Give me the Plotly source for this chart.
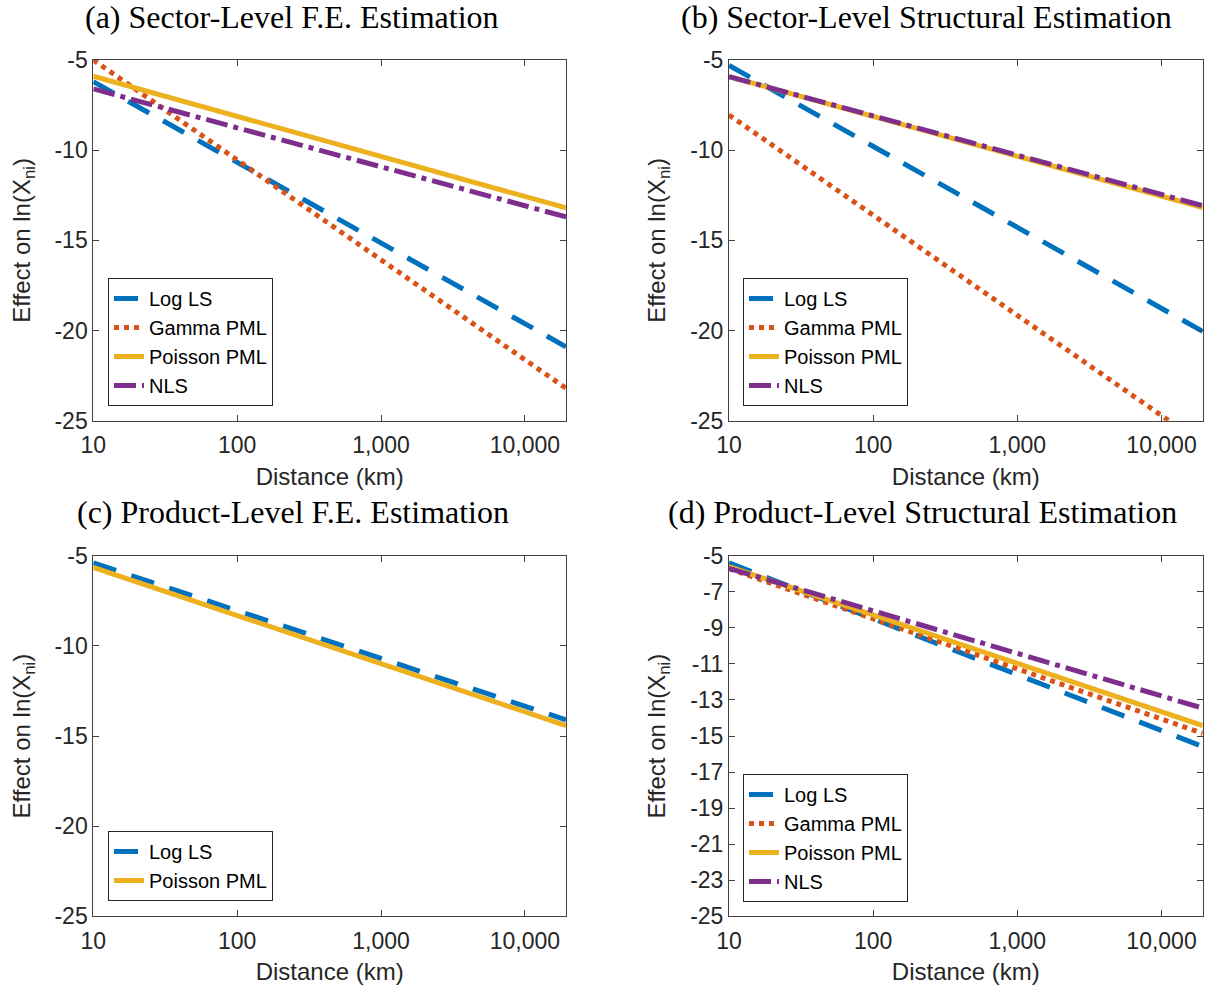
import plotly.graph_objects as go

# ---- data ----
distance_km = [10, 19300]
tick_vals_x = [10, 100, 1000, 10000]
tick_text_x = ["10", "100", "1,000", "10,000"]
ticks_y_coarse = [-5, -10, -15, -20, -25]
ticks_y_fine = [-5, -7, -9, -11, -13, -15, -17, -19, -21, -23, -25]

a_log_ls = [-6.2, -20.9]
a_gamma = [-5.0, -23.2]
a_poisson = [-5.9, -13.2]
a_nls = [-6.6, -13.7]

b_log_ls = [-5.3, -20.05]
b_gamma = [-8.05, -26.3]
b_poisson = [-5.92, -13.18]
b_nls = [-5.92, -13.08]

c_log_ls = [-5.4, -14.1]
c_poisson = [-5.65, -14.42]

d_log_ls = [-5.4, -15.58]
d_gamma = [-5.72, -14.85]
d_poisson = [-5.6, -14.42]
d_nls = [-5.7, -13.45]

titles = ["(a) Sector-Level F.E. Estimation",
          "(b) Sector-Level Structural Estimation",
          "(c) Product-Level F.E. Estimation",
          "(d) Product-Level Structural Estimation"]

names = ["Log LS", "Gamma PML", "Poisson PML", "NLS"]
colors = {"Log LS": "#0072BD", "Gamma PML": "#D95319",
          "Poisson PML": "#EDB120", "NLS": "#7E2F8E"}
dashes = {"Log LS": "24px,16px", "Gamma PML": "5px,5px",
          "Poisson PML": "solid", "NLS": "22px,6px,5px,6px"}

panels = [
    {"Log LS": a_log_ls, "Gamma PML": a_gamma, "Poisson PML": a_poisson, "NLS": a_nls},
    {"Log LS": b_log_ls, "Gamma PML": b_gamma, "Poisson PML": b_poisson, "NLS": b_nls},
    {"Log LS": c_log_ls, "Poisson PML": c_poisson},
    {"Log LS": d_log_ls, "Gamma PML": d_gamma, "Poisson PML": d_poisson, "NLS": d_nls},
]

W, H = 1211, 994
xdom = [[93.3 / W, 566 / W], [729 / W, 1202.7 / W]]
ydom_top = [1 - 420.7 / H, 1 - 60 / H]
ydom_bot = [1 - 916.4 / H, 1 - 555.7 / H]
doms = [(xdom[0], ydom_top), (xdom[1], ydom_top), (xdom[0], ydom_bot), (xdom[1], ydom_bot)]
legend_pos = [(108 / W, 1 - 406 / H), (743 / W, 1 - 406 / H),
              (108 / W, 1 - 901 / H), (743 / W, 1 - 902 / H)]
title_pos = [(292 / W, 1 - 17 / H), (926 / W, 1 - 17 / H),
             (293 / W, 1 - 512 / H), (922 / W, 1 - 512 / H)]

txt = "#262626"
axcol = "#404040"
fig = go.Figure()
layout = dict(width=W, height=H, margin=dict(l=0, r=0, t=0, b=0, autoexpand=False),
              paper_bgcolor="white", plot_bgcolor="white",
              font=dict(family="Liberation Sans, Arial, sans-serif", size=22, color=txt),
              annotations=[])

for i, panel in enumerate(panels):
    k = "" if i == 0 else str(i + 1)
    leg = "legend" + k
    for nm in names:
        if nm not in panel:
            continue
        fig.add_trace(go.Scatter(
            x=distance_km, y=panel[nm], mode="lines", name=nm,
            line=dict(color=colors[nm], width=5, dash=dashes[nm]),
            xaxis="x" + k, yaxis="y" + k, legend=leg, showlegend=True))
    xd, yd = doms[i]
    yt = ticks_y_fine if i == 3 else ticks_y_coarse
    layout["xaxis" + k] = dict(
        domain=xd, anchor="y" + k, type="log", automargin=False,
        range=[1, 4.2856], tickvals=tick_vals_x, ticktext=tick_text_x,
        ticks="inside", ticklen=6, tickcolor=axcol, showline=True, linecolor=axcol,
        linewidth=1, mirror="ticks", showgrid=False, zeroline=False,
        tickfont=dict(size=23, color=txt), ticklabelstandoff=4,
        title=dict(text="Distance (km)", font=dict(size=24, color=txt), standoff=10))
    layout["yaxis" + k] = dict(
        domain=yd, anchor="x" + k, range=[-25, -5], automargin=False,
        tickvals=yt, ticktext=["-%d" % abs(v) for v in yt],
        ticks="inside", ticklen=6, tickcolor=axcol, showline=True, linecolor=axcol,
        linewidth=1, mirror="ticks", showgrid=False, zeroline=False,
        tickfont=dict(size=23, color=txt),
        title=dict(text="Effect on ln(X<sub>ni</sub>)", font=dict(size=24, color=txt), standoff=17))
    lx, ly = legend_pos[i]
    layout[leg] = dict(x=lx, y=ly, xanchor="left", yanchor="bottom",
                       xref="paper", yref="paper",
                       bgcolor="white", bordercolor=txt, borderwidth=1,
                       font=dict(size=20, color="black"),
                       tracegroupgap=0, itemwidth=30)
    tx, ty = title_pos[i]
    layout["annotations"].append(dict(
        text=titles[i], x=tx, y=ty, xref="paper", yref="paper",
        xanchor="center", yanchor="middle", showarrow=False,
        font=dict(family="Liberation Serif, Times New Roman, serif", size=32, color="black")))

fig.update_layout(**layout)
fig.write_html("out.html", config={"displayModeBar": False},
               post_script="document.body.style.margin='0px';document.body.style.overflow='hidden';")
